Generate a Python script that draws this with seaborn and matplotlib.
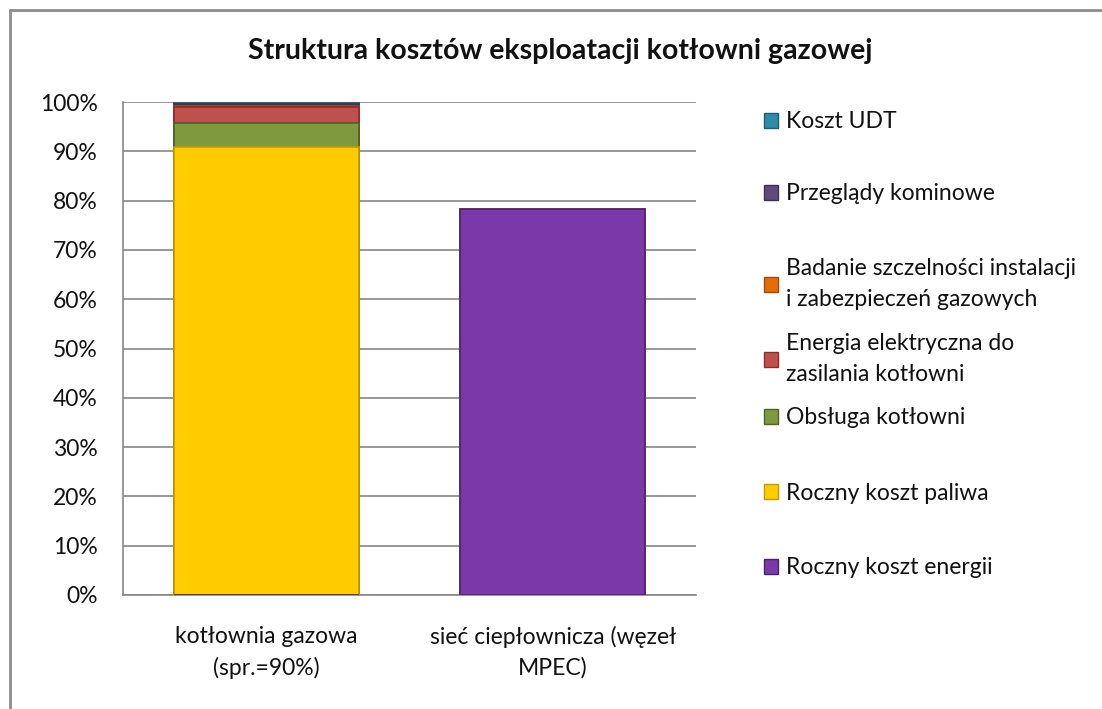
import numpy as np
import pandas as pd
import matplotlib
matplotlib.use('Agg')
import matplotlib.pyplot as plt
import seaborn as sns
from matplotlib.patches import Patch
from matplotlib.lines import Line2D
import matplotlib.ticker as ticker

# data (percent of cost)
categories = ['kotłownia gazowa\n(spr.=90%)', 'sieć ciepłownicza (węzeł\nMPEC)']
series = ['Roczny koszt energii', 'Roczny koszt paliwa', 'Obsługa kotłowni',
          'Energia elektryczna do\nzasilania kotłowni',
          'Badanie szczelności instalacji\ni zabezpieczeń gazowych',
          'Przeglądy kominowe', 'Koszt UDT']
energia = [0.0, 78.4]
paliwo = [90.9, 0.0]
obsluga = [4.8, 0.0]
energia_el = [3.3, 0.0]
badanie = [0.1, 0.0]
przeglady = [0.6, 0.0]
udt = [0.3, 0.0]

colors = ['#7A38A8', '#FFCC00', '#7F9A3E', '#C0504D', '#E46C0A', '#604A7B', '#2E8CA6']
edges = ['#4E2170', '#C49A00', '#4F6228', '#8B2F2D', '#A04A06', '#3F3052', '#1D5E70']

df = pd.DataFrame([energia, paliwo, obsluga, energia_el, badanie, przeglady, udt],
                  index=series, columns=categories)
cum = df.cumsum()

sns.set_style('white')
plt.rcParams['font.family'] = ['Lato', 'DejaVu Sans']

fs = 16.5

fig = plt.figure(figsize=(11.02, 7.09), dpi=100)
ax = fig.add_axes([0.1116, 0.1608, 0.52, 0.6953])

# stacked bars: draw cumulative totals from top layer down
for i in range(len(series) - 1, -1, -1):
    d = pd.DataFrame({'cat': categories, 'val': cum.iloc[i].values})
    sns.barplot(data=d, x='cat', y='val', color=colors[i], width=0.646,
                edgecolor=edges[i], linewidth=1.2, saturation=1, ax=ax, zorder=3)

ax.set_ylim(0, 100)
ax.set_xlim(-0.5, 1.5)
ax.yaxis.set_major_locator(ticker.MultipleLocator(10))
ax.yaxis.set_major_formatter(ticker.FuncFormatter(lambda v, p: f'{v:.0f}%'))
ax.grid(axis='y', color='#868686', linewidth=1.2, zorder=0)
ax.set_axisbelow(True)
for s in ['top', 'right']:
    ax.spines[s].set_visible(False)
for s in ['left', 'bottom']:
    ax.spines[s].set_color('#868686')
    ax.spines[s].set_linewidth(1.2)
ax.tick_params(axis='y', length=0, pad=18, labelsize=fs, colors='#111111')
ax.tick_params(axis='x', length=0, pad=22, labelsize=fs, colors='#111111')
for t in ax.get_xticklabels():
    t.set_linespacing(1.55)
ax.set_xlabel('')
ax.set_ylabel('')

fig.text(0.508, 0.928, 'Struktura kosztów eksploatacji kotłowni gazowej',
         ha='center', va='center', fontsize=20.5, fontweight='bold', color='#111111')

# legend entries placed like the Excel legend
leg_y = [122, 194, 284, 359, 418, 493, 568]
order = list(range(len(series) - 1, -1, -1))
for y, i in zip(leg_y, order):
    h = Patch(facecolor=colors[i], edgecolor=edges[i], linewidth=1)
    lg = fig.legend(handles=[h], labels=[series[i]], loc='center left',
                    bbox_to_anchor=(764 / 1102, 1 - y / 709), frameon=False,
                    fontsize=fs, handlelength=0.6, handleheight=0.6,
                    handletextpad=0.35, borderpad=0, borderaxespad=0)
    for t in lg.get_texts():
        t.set_color('#111111')
        t.set_linespacing(1.55)

# chart frame
fig.add_artist(Line2D([10 / 1102, 10 / 1102], [0, 1 - 10 / 709], color='#8c8c8c',
                      linewidth=2, transform=fig.transFigure))
fig.add_artist(Line2D([10 / 1102, 1], [1 - 10 / 709, 1 - 10 / 709], color='#8c8c8c',
                      linewidth=2, transform=fig.transFigure))

fig.savefig('out.png', dpi=100)
